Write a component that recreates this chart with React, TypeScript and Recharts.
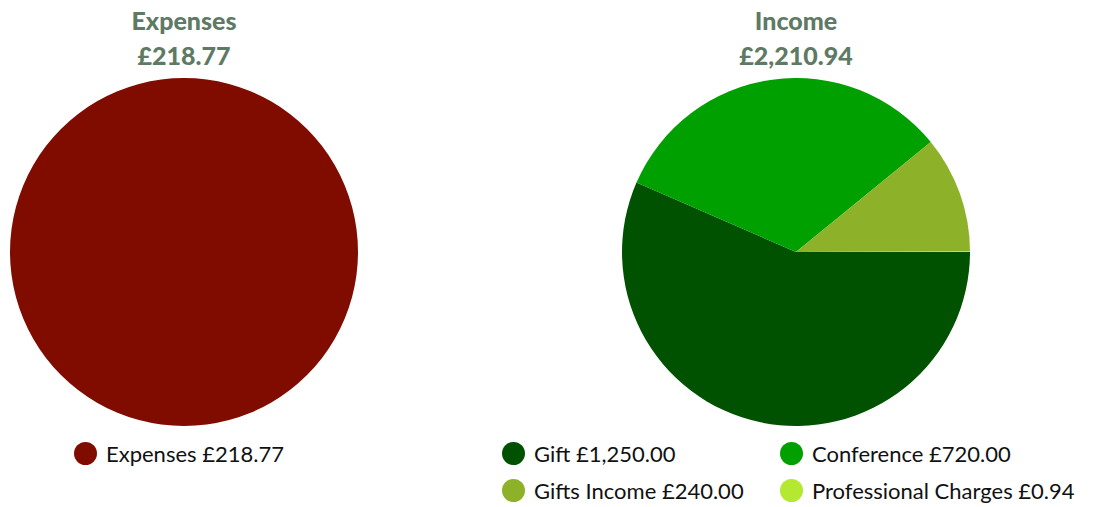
import React from "react";
import { PieChart, Pie, Cell, Legend } from "recharts";

const expenseNames = ["Expenses"];
const expenseValues = [218.77];
const expenseColors = ["#800c00"];

const incomeNames = ["Gift", "Conference", "Gifts Income", "Professional Charges"];
const incomeValues = [1250.0, 720.0, 240.0, 0.94];
const incomeColors = ["#005200", "#00a000", "#8db22a", "#b5e830"];

const titles = ["Expenses", "Income"];
const totals = ["£218.77", "£2,210.94"];

const fmt = (v: number) =>
  "£" + v.toLocaleString("en-GB", { minimumFractionDigits: 2, maximumFractionDigits: 2 });

const FONT = "Lato, 'Open Sans', sans-serif";
const TITLE_COLOR = "#5e7a64";

function makeData(names: string[], values: number[], colors: string[]) {
  return names.map((n, i) => ({ name: n, value: values[i], color: colors[i] }));
}

function LegendContent({ data, colWidth }: { data: any[]; colWidth: number }) {
  return (
    <div style={{ display: "flex", flexWrap: "wrap", justifyContent: "center", fontFamily: FONT }}>
      {data.map((d) => (
        <div
          key={d.name}
          style={{
            display: "flex",
            alignItems: "center",
            width: colWidth,
            height: 37,
            fontSize: 22,
            color: "#111",
            whiteSpace: "nowrap",
          }}
        >
          <span
            style={{
              display: "inline-block",
              width: 23,
              height: 23,
              borderRadius: "50%",
              background: d.color,
              marginRight: 9,
              flexShrink: 0,
            }}
          />
          {d.name} {fmt(d.value)}
        </div>
      ))}
    </div>
  );
}

function Title({ idx, cx }: { idx: number; cx: number }) {
  return (
    <div
      style={{
        position: "absolute",
        left: cx - 150,
        width: 300,
        top: 3,
        textAlign: "center",
        fontFamily: FONT,
        fontWeight: 900,
        fontSize: 25,
        lineHeight: "35px",
        color: TITLE_COLOR,
      }}
    >
      <div>{titles[idx]}</div>
      <div>{totals[idx]}</div>
    </div>
  );
}

export default function App() {
  const expData = makeData(expenseNames, expenseValues, expenseColors);
  const incData = makeData(incomeNames, incomeValues, incomeColors);
  return (
    <div style={{ position: "absolute", left: 0, top: 0, width: 1098, height: 507, background: "#fff" }}>
      <div style={{ position: "absolute", left: 0, top: 0 }}>
        <PieChart width={368} height={507} margin={{ top: 0, right: 0, bottom: 0, left: 0 }}>
          <Pie
            data={expData}
            dataKey="value"
            nameKey="name"
            cx={184}
            cy={252}
            outerRadius={174}
            startAngle={0}
            endAngle={-360}
            stroke="none"
            isAnimationActive={false}
          >
            {expData.map((d) => (
              <Cell key={d.name} fill={d.color} />
            ))}
          </Pie>
          <Legend
            content={() => <LegendContent data={expData} colWidth={220} />}
            wrapperStyle={{ left: 0, top: 435, width: 368 }}
          />
        </PieChart>
      </div>
      <Title idx={0} cx={184} />
      <div style={{ position: "absolute", left: 496, top: 0 }}>
        <PieChart width={602} height={507} margin={{ top: 0, right: 0, bottom: 0, left: 0 }}>
          <Pie
            data={incData}
            dataKey="value"
            nameKey="name"
            cx={300}
            cy={252}
            outerRadius={174}
            startAngle={0}
            endAngle={-360}
            stroke="none"
            isAnimationActive={false}
          >
            {incData.map((d) => (
              <Cell key={d.name} fill={d.color} />
            ))}
          </Pie>
          <Legend
            content={() => <LegendContent data={incData} colWidth={278} />}
            wrapperStyle={{ left: -17, top: 435, width: 602 }}
          />
        </PieChart>
      </div>
      <Title idx={1} cx={796} />
    </div>
  );
}
